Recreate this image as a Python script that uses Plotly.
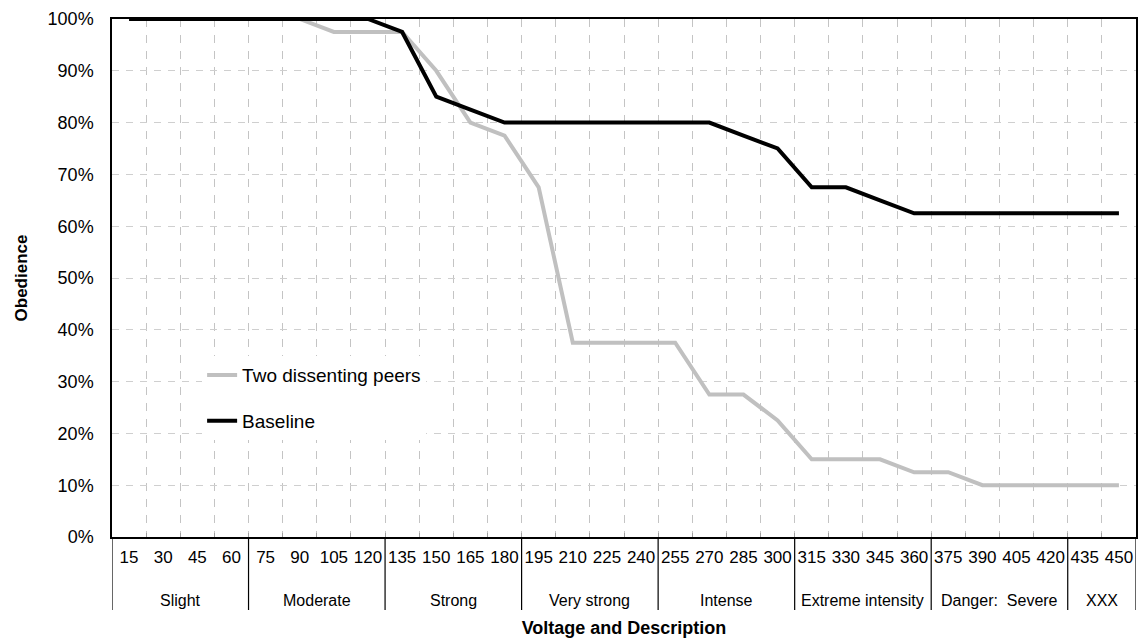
import plotly.graph_objects as go

voltages = ["15", "30", "45", "60", "75", "90", "105", "120", "135", "150",
            "165", "180", "195", "210", "225", "240", "255", "270", "285", "300",
            "315", "330", "345", "360", "375", "390", "405", "420", "435", "450"]
descriptions = ["Slight", "Moderate", "Strong", "Very strong", "Intense",
                "Extreme intensity", "Danger:\u00a0 Severe", "XXX"]
voltages_per_description = [4, 4, 4, 4, 4, 4, 4, 2]

two_dissenting_peers = [1.0, 1.0, 1.0, 1.0, 1.0, 1.0, 0.975, 0.975, 0.975, 0.90,
                        0.80, 0.775, 0.675, 0.375, 0.375, 0.375, 0.375, 0.275, 0.275, 0.225,
                        0.15, 0.15, 0.15, 0.125, 0.125, 0.10, 0.10, 0.10, 0.10, 0.10]
baseline = [1.0, 1.0, 1.0, 1.0, 1.0, 1.0, 1.0, 1.0, 0.975, 0.85,
            0.825, 0.80, 0.80, 0.80, 0.80, 0.80, 0.80, 0.80, 0.775, 0.75,
            0.675, 0.675, 0.65, 0.625, 0.625, 0.625, 0.625, 0.625, 0.625, 0.625]

FONT = "Liberation Sans, Arial, sans-serif"
PLOT_H = 642 - 19 - 105

fig = go.Figure()
fig.add_trace(go.Scatter(
    x=voltages, y=two_dissenting_peers, mode="lines", name="Two dissenting peers",
    line=dict(color="#c0c0c0", width=4), cliponaxis=False, legendgroup="a"))
fig.add_trace(go.Scatter(
    x=voltages, y=baseline, mode="lines", name="Baseline",
    line=dict(color="#000000", width=4), cliponaxis=False, legendgroup="b"))

# second level of the category axis: description groups, with dividers
start = 0
boundaries = [0]
for name, n in zip(descriptions, voltages_per_description):
    fig.add_annotation(x=start + (n - 1) / 2, xref="x", y=-(600 - 537) / PLOT_H, yref="paper",
                       text=name, showarrow=False, yanchor="middle", xanchor="center",
                       font=dict(size=16, family=FONT, color="#000000"))
    start += n
    boundaries.append(start)
for b in boundaries:
    fig.add_shape(type="line", xref="x", yref="paper",
                  x0=b - 0.5, x1=b - 0.5, y0=0, y1=-(610 - 537) / PLOT_H,
                  line=dict(color="#000000", width=1.2))

fig.update_layout(
    width=1139, height=642,
    margin=dict(l=112, r=3, t=19, b=105, autoexpand=False),
    paper_bgcolor="white", plot_bgcolor="white",
    font=dict(family=FONT, size=17, color="#000000"),
    showlegend=True,
    legend=dict(x=0.088, y=0.349, xanchor="left", yanchor="top",
                bgcolor="white", font=dict(size=19, family=FONT),
                tracegroupgap=18, itemwidth=30),
)

fig.update_xaxes(
    type="category", range=[-0.5, len(voltages) - 0.5], tickangle=0, automargin=False,
    showline=True, linecolor="#000000", linewidth=1.5, mirror=True,
    showgrid=True, gridcolor="#c4c4c4", gridwidth=1, griddash="8px,8px",
    tickson="boundaries", ticks="inside", ticklen=4, tickcolor="#a0a0a0",
    ticklabelstandoff=4,
    tickfont=dict(size=17, family=FONT),
    title=dict(text="<b>Voltage and Description</b>", font=dict(size=18, family=FONT),
               standoff=55),
)
fig.update_yaxes(
    range=[0, 1], dtick=0.1, tickformat=".0%", automargin=False,
    showline=True, linecolor="#000000", linewidth=1.5, mirror=True,
    showgrid=True, gridcolor="#cfcfcf", gridwidth=1, griddash="7px,7px",
    ticks="", ticklabelstandoff=13, zeroline=False,
    tickfont=dict(size=18, family=FONT),
    title=dict(text="<b>Obedience</b>", font=dict(size=17, family=FONT), standoff=16),
)

fig.write_html("out.html", config={"displayModeBar": False},
               post_script="document.body.style.margin='0';")
